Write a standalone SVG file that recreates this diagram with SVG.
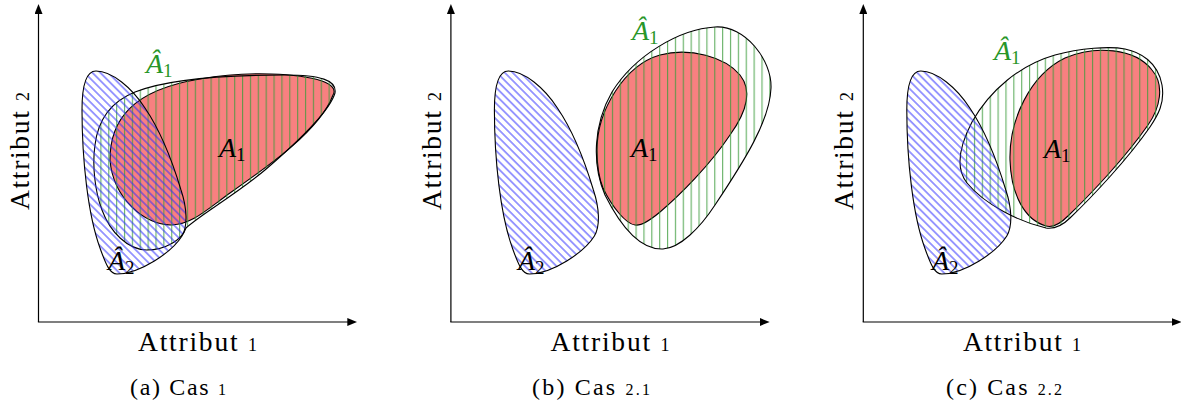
<svg xmlns="http://www.w3.org/2000/svg" width="1181" height="407" viewBox="0 0 1181 407">
<style>
  .axis { stroke: #000; stroke-width: 1.2; fill: none; }
  .red { fill: #f88080; stroke: #000; stroke-width: 1.1; }
  .hatA1 { fill: url(#vlines); stroke: #000; stroke-width: 1.1; }
  .hatA2 { fill: url(#dlines); stroke: #000; stroke-width: 1.1; }
  .lbl { font-family: "Liberation Serif", "Times New Roman", serif; fill: #000; }
  .ax { font-size: 27.5px; }
  .cap { font-size: 24px; }
  .math { font-family: "Liberation Serif", "Times New Roman", serif; font-size: 28px; fill: #000; }
  .math .v { font-style: italic; }
  .math .s { font-size: 19px; }
  .green { fill: #289628; }
</style>
<defs>
  <marker id="arrow" markerUnits="userSpaceOnUse" markerWidth="10" markerHeight="8" refX="2" refY="4" orient="auto">
    <path d="M0,0 L10,4 L0,8 Z" fill="#000"/>
  </marker>
  <pattern id="vlines" patternUnits="userSpaceOnUse" width="7.87" height="10">
    <line x1="6.55" y1="-1" x2="6.55" y2="11" stroke="#3c9c3c" stroke-width="0.9"/>
  </pattern>
  <pattern id="dlines" patternUnits="userSpaceOnUse" width="5.57" height="10" patternTransform="rotate(-45)">
    <line x1="2.8" y1="-1" x2="2.8" y2="11" stroke="#2e2eff" stroke-width="0.95"/>
  </pattern>
</defs>

<g id="connectors">
  <g id="axes-a">
    <path class="axis" d="M38.5,322 L38.5,12" marker-end="url(#arrow)"/>
    <path class="axis" d="M37.9,322 L349.3,322" marker-end="url(#arrow)"/>
  </g>
  <g id="axes-b">
    <path class="axis" d="M450.9,322 L450.9,12" marker-end="url(#arrow)"/>
    <path class="axis" d="M450.3,322 L761.7,322" marker-end="url(#arrow)"/>
  </g>
  <g id="axes-c">
    <path class="axis" d="M863.3,322 L863.3,12" marker-end="url(#arrow)"/>
    <path class="axis" d="M862.7,322 L1173.5,322" marker-end="url(#arrow)"/>
  </g>
</g>

<!-- Panel (a) -->
<g id="panel-a">
  <g id="a-A1">
    <path class="red" d="M333,95 C320,130 270,165 230,193 C205,211 192,224 172,225 C145,226 113,198 110,160 C110,120 132,90 200,79 C250,70 300,74 322,81 C333,85 336,90 333,95 Z"/>
  </g>
  <g id="a-A1hat">
    <path class="hatA1" d="M335,93 C330,110 300,140 265,170 C235,195 200,215 186,228 C182,240 165,250 147,250 C128,250 110,232 102,210 C95,192 92,165 95,145 C98,120 110,102 135,92 C170,78 230,75 285,75 C320,75 337,80 335,93 Z"/>
  </g>
  <g id="a-A2hat">
    <path class="hatA2" d="M96,71 C86,71 82,85 82,110 C82,160 88,215 100,248 C106,265 110,274 117,274 C140,274 172,252 182,236 C188,226 187,208 181,190 C172,160 160,130 145,108 C132,88 112,71 96,71 Z"/>
  </g>
  <text class="math green" x="146" y="72.5"><tspan class="v">Â</tspan><tspan class="s" dy="4">1</tspan></text>
  <text class="math" x="219" y="157"><tspan class="v">A</tspan><tspan class="s" dy="4">1</tspan></text>
  <text class="math" x="108" y="270"><tspan class="v">Â</tspan><tspan class="s" dy="4">2</tspan></text>
  <text class="lbl ax" x="197.5" y="351" text-anchor="middle" textLength="119" lengthAdjust="spacing">Attribut <tspan font-size="18">1</tspan></text>
  <text class="lbl ax" transform="translate(28.5,151) rotate(-90)" text-anchor="middle" textLength="118" lengthAdjust="spacing">Attribut <tspan font-size="18">2</tspan></text>
  <text class="lbl cap" x="178" y="394.5" text-anchor="middle" textLength="96" lengthAdjust="spacing">(a) Cas <tspan font-size="16">1</tspan></text>
</g>

<!-- Panel (b) -->
<g id="panel-b">
  <g id="b-A1">
    <path class="red" d="M597,150 C597,110 625,65 660,55 C690,47 725,57 740,75 C752,90 748,110 730,135 C710,165 680,195 660,212 C648,222 640,226 635,225 C626,224 612,207 603,188 C598,176 597,163 597,150 Z"/>
  </g>
  <g id="b-A1hat">
    <path class="hatA1" d="M715,27 C745,25 772,60 771,88 C770,120 745,160 715,205 C700,228 680,248 663,249 C640,250 620,225 605,195 C592,165 593,125 612,92 C635,55 680,29 715,27 Z"/>
  </g>
  <g id="b-A2hat">
    <path class="hatA2" transform="translate(412.4,0)" d="M96,71 C86,71 82,85 82,110 C82,160 88,215 100,248 C106,265 110,274 117,274 C140,274 172,252 182,236 C188,226 187,208 181,190 C172,160 160,130 145,108 C132,88 112,71 96,71 Z"/>
  </g>
  <text class="math green" x="632" y="40"><tspan class="v">Â</tspan><tspan class="s" dy="4">1</tspan></text>
  <text class="math" x="631" y="157"><tspan class="v">A</tspan><tspan class="s" dy="4">1</tspan></text>
  <text class="math" x="518" y="270"><tspan class="v">Â</tspan><tspan class="s" dy="4">2</tspan></text>
  <text class="lbl ax" x="610" y="351" text-anchor="middle" textLength="119" lengthAdjust="spacing">Attribut <tspan font-size="18">1</tspan></text>
  <text class="lbl ax" transform="translate(440.9,151) rotate(-90)" text-anchor="middle" textLength="118" lengthAdjust="spacing">Attribut <tspan font-size="18">2</tspan></text>
  <text class="lbl cap" x="591" y="394.5" text-anchor="middle" textLength="118" lengthAdjust="spacing">(b) Cas <tspan font-size="16">2.1</tspan></text>
</g>

<!-- Panel (c) -->
<g id="panel-c">
  <g id="c-A1">
    <path class="red" d="M1010,160 C1009,120 1030,75 1065,58 C1095,45 1135,48 1152,70 C1165,85 1160,108 1148,125 C1125,158 1090,195 1068,216 C1060,224 1053,228 1046,226 C1025,220 1011,195 1010,160 Z"/>
  </g>
  <g id="c-A1hat">
    <path class="hatA1" d="M1046,228 C1020,222 985,205 967,183 C955,168 960,145 972,122 C990,90 1020,65 1055,55 C1080,48 1110,46 1125,49 C1140,52 1158,62 1162,85 C1165,103 1158,115 1150,127 C1127,160 1092,197 1070,218 C1062,226 1054,229 1046,228 Z"/>
  </g>
  <g id="c-A2hat">
    <path class="hatA2" transform="translate(824.8,0)" d="M96,71 C86,71 82,85 82,110 C82,160 88,215 100,248 C106,265 110,274 117,274 C140,274 172,252 182,236 C188,226 187,208 181,190 C172,160 160,130 145,108 C132,88 112,71 96,71 Z"/>
  </g>
  <text class="math green" x="994" y="60"><tspan class="v">Â</tspan><tspan class="s" dy="4">1</tspan></text>
  <text class="math" x="1044" y="158"><tspan class="v">A</tspan><tspan class="s" dy="4">1</tspan></text>
  <text class="math" x="932" y="270"><tspan class="v">Â</tspan><tspan class="s" dy="4">2</tspan></text>
  <text class="lbl ax" x="1022" y="351" text-anchor="middle" textLength="118" lengthAdjust="spacing">Attribut <tspan font-size="18">1</tspan></text>
  <text class="lbl ax" transform="translate(853.3,151) rotate(-90)" text-anchor="middle" textLength="118" lengthAdjust="spacing">Attribut <tspan font-size="18">2</tspan></text>
  <text class="lbl cap" x="1004" y="394.5" text-anchor="middle" textLength="116" lengthAdjust="spacing">(c) Cas <tspan font-size="16">2.2</tspan></text>
</g>
</svg>
